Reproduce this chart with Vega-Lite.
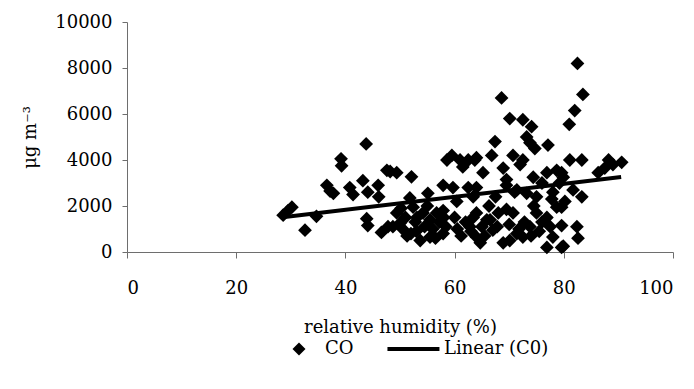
{
  "$schema": "https://vega.github.io/schema/vega-lite/v6.json",
  "width": 546,
  "height": 230,
  "autosize": "none",
  "padding": {"left": 127, "top": 22, "right": 21, "bottom": 137},
  "background": "white",
  "config": {
    "view": {"stroke": null},
    "font": "DejaVu Serif",
    "axis": {
      "grid": false,
      "domainColor": "#6e6e6e",
      "tickColor": "#6e6e6e",
      "labelFont": "DejaVu Serif",
      "labelFontSize": 18,
      "labelColor": "black",
      "titleFont": "DejaVu Serif",
      "titleFontSize": 18,
      "titleFontWeight": "normal",
      "titleColor": "black"
    },
    "legend": {
      "labelFont": "DejaVu Serif",
      "labelFontSize": 18,
      "labelColor": "black"
    }
  },
  "datasets": {
    "co": [
      {"rh": 28.6, "conc": 1600}, {"rh": 29.5, "conc": 1800}, {"rh": 30.2, "conc": 1950},
      {"rh": 32.6, "conc": 950}, {"rh": 34.7, "conc": 1550}, {"rh": 36.6, "conc": 2900},
      {"rh": 37.2, "conc": 2650}, {"rh": 37.8, "conc": 2550}, {"rh": 39.2, "conc": 4050},
      {"rh": 39.3, "conc": 3750}, {"rh": 40.8, "conc": 2800}, {"rh": 41.4, "conc": 2500},
      {"rh": 43.2, "conc": 3100}, {"rh": 44.1, "conc": 2600}, {"rh": 43.8, "conc": 4700},
      {"rh": 43.9, "conc": 1450}, {"rh": 44.1, "conc": 1150}, {"rh": 46.0, "conc": 2900},
      {"rh": 46.1, "conc": 2400}, {"rh": 46.6, "conc": 850}, {"rh": 47.6, "conc": 3550},
      {"rh": 47.8, "conc": 1100}, {"rh": 48.2, "conc": 3500}, {"rh": 49.4, "conc": 3450},
      {"rh": 48.7, "conc": 1100}, {"rh": 50.0, "conc": 1250}, {"rh": 49.4, "conc": 1700},
      {"rh": 50.5, "conc": 1000}, {"rh": 51.0, "conc": 1500}, {"rh": 51.8, "conc": 2350},
      {"rh": 52.1, "conc": 3270}, {"rh": 52.4, "conc": 1950}, {"rh": 52.8, "conc": 1300},
      {"rh": 53.1, "conc": 1500}, {"rh": 53.7, "conc": 500}, {"rh": 54.2, "conc": 1700},
      {"rh": 54.5, "conc": 1100}, {"rh": 55.1, "conc": 2550}, {"rh": 55.5, "conc": 1400},
      {"rh": 55.5, "conc": 650}, {"rh": 56.0, "conc": 1000}, {"rh": 56.7, "conc": 1700},
      {"rh": 57.2, "conc": 1300}, {"rh": 57.9, "conc": 1800}, {"rh": 57.9, "conc": 800},
      {"rh": 57.9, "conc": 2900}, {"rh": 58.4, "conc": 1100}, {"rh": 58.6, "conc": 4000},
      {"rh": 59.5, "conc": 4200}, {"rh": 59.7, "conc": 2800}, {"rh": 60.4, "conc": 2200},
      {"rh": 61.0, "conc": 4000}, {"rh": 61.5, "conc": 3700}, {"rh": 62.5, "conc": 4000},
      {"rh": 62.5, "conc": 2800}, {"rh": 62.8, "conc": 1100}, {"rh": 63.4, "conc": 2400},
      {"rh": 63.4, "conc": 1500}, {"rh": 63.7, "conc": 4000}, {"rh": 64.0, "conc": 4100},
      {"rh": 64.0, "conc": 650}, {"rh": 64.0, "conc": 2800}, {"rh": 64.0, "conc": 1700},
      {"rh": 64.7, "conc": 400}, {"rh": 65.2, "conc": 3450}, {"rh": 65.0, "conc": 1100},
      {"rh": 65.9, "conc": 1400}, {"rh": 66.3, "conc": 2000}, {"rh": 66.8, "conc": 4200},
      {"rh": 67.0, "conc": 950}, {"rh": 67.4, "conc": 4800}, {"rh": 67.5, "conc": 2400},
      {"rh": 68.0, "conc": 1700}, {"rh": 68.6, "conc": 6700}, {"rh": 68.9, "conc": 3650},
      {"rh": 68.9, "conc": 400}, {"rh": 69.5, "conc": 3150}, {"rh": 69.5, "conc": 1850},
      {"rh": 69.5, "conc": 2900}, {"rh": 70.1, "conc": 5800}, {"rh": 70.1, "conc": 500},
      {"rh": 70.7, "conc": 4200}, {"rh": 70.7, "conc": 1700}, {"rh": 71.0, "conc": 2600},
      {"rh": 71.4, "conc": 2700}, {"rh": 71.4, "conc": 800}, {"rh": 72.0, "conc": 3800},
      {"rh": 72.5, "conc": 5750}, {"rh": 72.5, "conc": 4000}, {"rh": 72.5, "conc": 650},
      {"rh": 72.8, "conc": 1300}, {"rh": 73.2, "conc": 5000}, {"rh": 73.2, "conc": 2550},
      {"rh": 73.8, "conc": 4750}, {"rh": 73.8, "conc": 1100}, {"rh": 74.1, "conc": 5450},
      {"rh": 74.4, "conc": 3250}, {"rh": 74.7, "conc": 4500}, {"rh": 74.5, "conc": 2000},
      {"rh": 75.0, "conc": 2400}, {"rh": 75.0, "conc": 1700}, {"rh": 75.5, "conc": 900},
      {"rh": 76.0, "conc": 3000}, {"rh": 76.9, "conc": 3450}, {"rh": 76.9, "conc": 200},
      {"rh": 76.9, "conc": 1500}, {"rh": 77.1, "conc": 4650}, {"rh": 77.5, "conc": 1100},
      {"rh": 78.0, "conc": 650}, {"rh": 78.0, "conc": 2600}, {"rh": 78.7, "conc": 3550},
      {"rh": 78.7, "conc": 1950}, {"rh": 79.2, "conc": 3000}, {"rh": 79.6, "conc": 200},
      {"rh": 79.6, "conc": 3450}, {"rh": 79.9, "conc": 3250}, {"rh": 80.2, "conc": 2200},
      {"rh": 79.6, "conc": 1950}, {"rh": 79.6, "conc": 1150}, {"rh": 79.9, "conc": 250},
      {"rh": 81.0, "conc": 5550}, {"rh": 81.1, "conc": 4000}, {"rh": 81.7, "conc": 2700},
      {"rh": 82.0, "conc": 6150}, {"rh": 82.4, "conc": 1100}, {"rh": 82.5, "conc": 8200},
      {"rh": 82.6, "conc": 600}, {"rh": 83.3, "conc": 4000}, {"rh": 83.3, "conc": 2400},
      {"rh": 83.5, "conc": 6850}, {"rh": 86.3, "conc": 3450}, {"rh": 87.5, "conc": 3650},
      {"rh": 88.2, "conc": 4000}, {"rh": 89.0, "conc": 3800}, {"rh": 90.6, "conc": 3900},
      {"rh": 60.0, "conc": 1500}, {"rh": 60.5, "conc": 1000}, {"rh": 61.2, "conc": 700},
      {"rh": 62.0, "conc": 1300}, {"rh": 63.0, "conc": 900}, {"rh": 65.5, "conc": 700},
      {"rh": 66.5, "conc": 1400}, {"rh": 67.8, "conc": 1100}, {"rh": 70.0, "conc": 1200},
      {"rh": 71.8, "conc": 1000}, {"rh": 74.0, "conc": 700}, {"rh": 76.0, "conc": 1300},
      {"rh": 77.8, "conc": 2300}, {"rh": 52.0, "conc": 800}, {"rh": 53.0, "conc": 900},
      {"rh": 55.0, "conc": 2000}, {"rh": 56.5, "conc": 600}, {"rh": 58.0, "conc": 1500},
      {"rh": 50.2, "conc": 1900}, {"rh": 51.3, "conc": 700}
    ],
    "trend": [
      {"rh": 28.5, "conc": 1510},
      {"rh": 90.5, "conc": 3265}
    ]
  },
  "layer": [
    {
      "data": {"name": "co"},
      "transform": [{"calculate": "'CO'", "as": "series"}],
      "mark": {"type": "point", "filled": true, "color": "black", "opacity": 1, "size": 190},
      "encoding": {
        "x": {
          "field": "rh", "type": "quantitative",
          "scale": {"domain": [0, 100], "nice": false},
          "axis": {
            "values": [0, 20, 40, 60, 80, 100],
            "format": "d",
            "title": "relative humidity (%)",
            "tickSize": 6,
            "labelPadding": 21,
            "titlePadding": 21
          }
        },
        "y": {
          "field": "conc", "type": "quantitative",
          "scale": {"domain": [0, 10000], "nice": false},
          "axis": {
            "values": [0, 2000, 4000, 6000, 8000, 10000],
            "format": "d",
            "title": "μg m⁻³",
            "tickSize": 5,
            "labelPadding": 10,
            "titlePadding": 15
          }
        },
        "shape": {
          "field": "series", "type": "nominal",
          "scale": {
            "domain": ["CO", "Linear (C0)"],
            "range": ["M-1,0L0,-1L1,0L0,1Z", "M-4.7,-0.32L3.3,-0.32L3.3,0.32L-4.7,0.32Z"]
          },
          "legend": {
            "title": null,
            "orient": "none",
            "legendX": 163,
            "legendY": 318,
            "padding": 0,
            "direction": "horizontal",
            "symbolSize": 169,
            "columnPadding": 33,
            "labelOffset": 17,
            "symbolFillColor": "black",
            "symbolStrokeWidth": 0
          }
        }
      }
    },
    {
      "data": {"name": "trend"},
      "mark": {"type": "line", "color": "black", "strokeWidth": 4},
      "encoding": {
        "x": {"field": "rh", "type": "quantitative"},
        "y": {"field": "conc", "type": "quantitative"}
      }
    }
  ]
}
